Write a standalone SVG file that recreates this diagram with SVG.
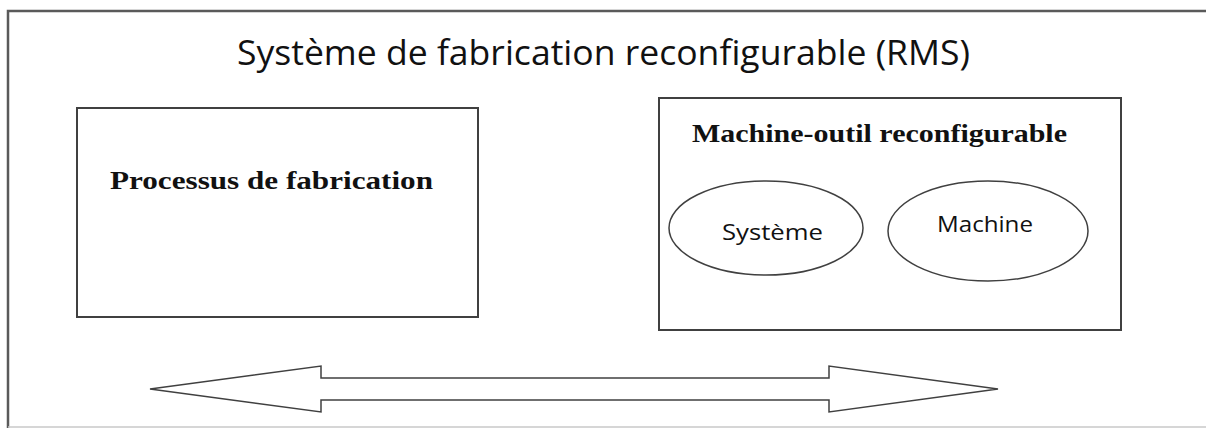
<svg xmlns="http://www.w3.org/2000/svg" width="1206" height="428" viewBox="0 0 1206 428">
  <style>
    .frame { fill: none; stroke: #5a5a5a; stroke-width: 2.5; }
    .box { fill: #ffffff; stroke: #404040; stroke-width: 2; }
    .oval { fill: #ffffff; stroke: #404040; stroke-width: 1.5; }
    .title { font-family: "Open Sans", "Liberation Sans", sans-serif; font-size: 34px; fill: #111111; }
    .head { font-family: "Liberation Serif", "DejaVu Serif", serif; font-weight: bold; font-size: 25px; fill: #111111; }
    .label { font-family: "Open Sans", "Liberation Sans", sans-serif; font-size: 22px; fill: #111111; }
  </style>
  <rect width="1206" height="428" fill="#ffffff"/>

  <!-- outer frame: left and top edges, faint bottom rule -->
  <g id="frame">
    <path class="frame" d="M 8 428 L 8 11 L 1206 11"/>
    <line x1="8" y1="427" x2="1206" y2="427" stroke="#c8c8c8" stroke-width="1.5"/>
    <text class="title" x="237" y="65" textLength="733" lengthAdjust="spacingAndGlyphs">Système de fabrication reconfigurable (RMS)</text>
  </g>

  <g id="processus">
    <rect class="box" x="77" y="108" width="401" height="209"/>
    <text class="head" x="110" y="189" textLength="323" lengthAdjust="spacingAndGlyphs">Processus de fabrication</text>
  </g>

  <g id="machine-outil">
    <rect class="box" x="659" y="98" width="462" height="232"/>
    <text class="head" x="692" y="142" textLength="375" lengthAdjust="spacingAndGlyphs">Machine-outil reconfigurable</text>
  </g>

  <g id="systeme">
    <ellipse class="oval" cx="766" cy="228" rx="97" ry="47"/>
    <text class="label" x="722" y="240" textLength="101" lengthAdjust="spacingAndGlyphs">Système</text>
  </g>

  <g id="machine">
    <ellipse class="oval" cx="988" cy="231" rx="100" ry="50"/>
    <text class="label" x="937" y="232" textLength="96" lengthAdjust="spacingAndGlyphs">Machine</text>
  </g>

  <!-- double-headed block arrow -->
  <g id="connectors">
    <path class="oval" stroke-width="2" d="M 150 389 L 321 366 L 321 378 L 829 378 L 829 366 L 998 389 L 829 412 L 829 400 L 321 400 L 321 412 Z"/>
  </g>
</svg>
